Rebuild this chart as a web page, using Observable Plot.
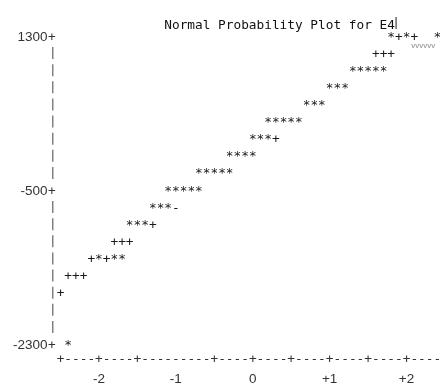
<!DOCTYPE html>
<html>
<head>
<meta charset="utf-8">
<script src="https://cdn.jsdelivr.net/npm/d3@7"></script>
<script src="https://cdn.jsdelivr.net/npm/@observablehq/plot@0.6"></script>
<style>
  html, body { margin: 0; padding: 0; background: #fff; }
  #chart { background: #fff; filter: grayscale(1); }
</style>
</head>
<body>
<div id="chart"></div>
<script>
// Line-printer style normal probability plot of E4.
// '*' = observed values, '+' = reference line.
const title = "Normal Probability Plot for E4";
const titleStart = -1.1;          // normal quantile of the first title column

// One printed row per y bin: value, quantile of its first column, and the symbols.
const rowValues  = [1300, 1100, 900, 700, 500, 300, 100, -100, -300, -500, -700, -900, -1100, -1300, -1500, -1700, -2300];
const rowStarts  = [1.8, 1.6, 1.3, 1.0, 0.7, 0.2, 0.0, -0.3, -0.7, -1.1, -1.3, -1.6, -1.8, -2.1, -2.4, -2.5, -2.4];
const rowSymbols = ["*+*+  *", "+++", "*****", "***", "***", "*****", "***+", "****", "*****", "*****", "***-", "***+", "+++", "+*+**", "+++", "+", "*"];

// Vertical axis rows (printer lines) and labelled ticks.
const yRows  = [1300, 1100, 900, 700, 500, 300, 100, -100, -300, -500, -700, -900, -1100, -1300, -1500, -1700, -1900, -2100, -2300];
const yTicks = [1300, -500, -2300];

// Horizontal axis: printed rule and labelled ticks.
const xTicks   = [-2, -1, 0, 1, 2];
const axisLine = "+----+----+---------+----+----+----+----+----+----";

const colWidth = 0.1;             // one print column in quantile units
const rowHalf = 70;               // half height of a printed "|" in y units
const mono = "'DejaVu Sans Mono', 'Liberation Mono', monospace";
const sans = "'Liberation Sans', Arial, sans-serif";
const monoSize = 12.77;

const cells = rowValues.flatMap((v, i) =>
  [...rowSymbols[i]]
    .map((ch, j) => ({x: rowStarts[i] + j * colWidth, y: v, ch}))
    .filter(d => d.ch !== " ")
);

const axisCol = -2.5 - colWidth;
const barRows = yRows.filter(v => !yTicks.includes(v));
const xAxisCells = [...axisLine].map((ch, j) => ({x: -2.5 + j * colWidth, ch}));

const chart = Plot.plot({
  width: 443,
  height: 390,
  marginLeft: 60,
  marginRight: 0,
  marginTop: 19,
  marginBottom: 28,
  style: {background: "#fff", color: "#222"},
  x: {domain: [-2.5, 2.5], range: [60, 444.5], label: null},
  y: {domain: [-2300, 1300], range: [344, 36], label: null},
  marks: [
    // title and the edit cursor after it
    Plot.text([{x: titleStart - colWidth / 2, t: title}], {
      x: "x", text: "t", frameAnchor: "top", textAnchor: "start",
      fontFamily: mono, fontSize: monoSize, fill: "#111"
    }),
    Plot.text([{x: titleStart - colWidth / 2 + title.length * colWidth}], {
      x: "x", text: () => "|", frameAnchor: "top", dx: 1, dy: -2.5,
      fontFamily: sans, fontSize: 12, fill: "#111"
    }),
    // vertical axis column: printed bars between the labelled rows
    Plot.ruleX(barRows, {
      x: () => axisCol, y1: v => v - rowHalf, y2: v => v + rowHalf,
      stroke: "#555", strokeWidth: 1.1
    }),
    Plot.text(yTicks, {
      x: () => axisCol, y: v => v, text: () => "+", dx: -1,
      fontFamily: mono, fontSize: monoSize, fill: "#333"
    }),
    Plot.axisY({
      ticks: yTicks, tickSize: 0, tickPadding: 13, label: null,
      tickFormat: d => String(d), fontFamily: sans, fontSize: 13.5, fill: "#333"
    }),
    // horizontal axis rule
    Plot.text(xAxisCells, {
      x: "x", text: "ch", frameAnchor: "bottom",
      fontFamily: mono, fontSize: monoSize, fill: "#333"
    }),
    Plot.axisX({
      ticks: xTicks, tickSize: 0, tickPadding: 11, label: null,
      tickFormat: d => d > 0 ? "+" + d : String(d).replace("\u2212", "-"),
      fontFamily: sans, fontSize: 13.5, fill: "#333"
    }),
    // plotted symbols
    Plot.text(cells, {
      x: "x", y: "y", text: "ch",
      fontFamily: mono, fontSize: monoSize, fill: "#1a1a1a"
    }),
    Plot.text([{x: 2.1, y: 1300}], {
      x: "x", y: "y", text: () => "vvvvvv", dx: -3, dy: 9, textAnchor: "start",
      fontFamily: sans, fontSize: 8, fill: "#888"
    })
  ]
});

document.getElementById("chart").appendChild(chart);
</script>
</body>
</html>
